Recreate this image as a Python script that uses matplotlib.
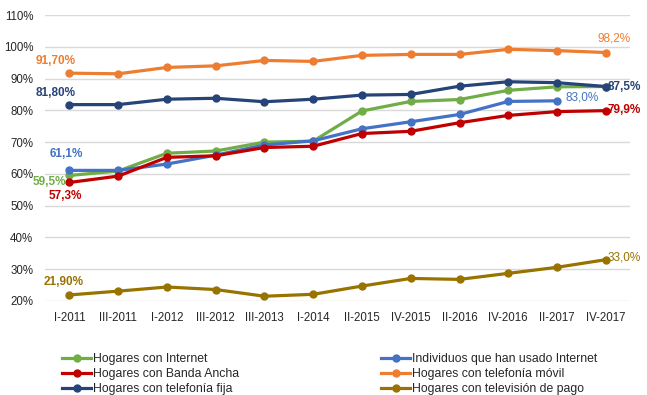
import numpy as np
import matplotlib
matplotlib.use("Agg")
import matplotlib.pyplot as plt

plt.rcParams['font.family'] = ['Liberation Sans', 'DejaVu Sans']

# periods on the x axis
periodos = ["I-2011", "III-2011", "I-2012", "III-2012", "III-2013", "I-2014",
            "II-2015", "IV-2015", "II-2016", "IV-2016", "II-2017", "IV-2017"]

# series values (%)
internet = [59.5, 60.9, 66.5, 67.2, 70.0, 70.3, 79.8, 82.8, 83.4, 86.3, 87.4, 87.5]
individuos = [61.1, 61.1, 63.1, 65.9, 69.1, 70.4, 74.2, 76.4, 78.7, 82.8, 83.0, np.nan]
banda_ancha = [57.3, 59.3, 65.2, 65.7, 68.3, 68.7, 72.7, 73.4, 76.1, 78.4, 79.6, 79.9]
movil = [91.7, 91.5, 93.5, 94.0, 95.7, 95.4, 97.3, 97.6, 97.6, 99.2, 98.8, 98.2]
fija = [81.8, 81.8, 83.5, 83.8, 82.7, 83.5, 84.8, 85.0, 87.6, 89.0, 88.7, 87.5]
tv_pago = [21.9, 23.1, 24.4, 23.6, 21.5, 22.1, 24.7, 27.1, 26.8, 28.7, 30.6, 33.0]

nombres = ["Hogares con Internet", "Individuos que han usado Internet",
           "Hogares con Banda Ancha", "Hogares con telefonía móvil",
           "Hogares con telefonía fija", "Hogares con televisión de pago"]
colores = ["#70AD47", "#4472C4", "#C00000", "#ED7D31", "#264478", "#997300"]
series = [internet, individuos, banda_ancha, movil, fija, tv_pago]

fig = plt.figure(figsize=(6.47, 3.95), dpi=100)
ax = fig.add_axes([0.0696, 0.238, 0.9044, 0.724])
x = np.arange(len(periodos))

lineas = []
for vals, nom, col in zip(series, nombres, colores):
    l, = ax.plot(x, vals, color=col, lw=2.3, marker="o", ms=5, label=nom)
    lineas.append(l)

ax.set_xlim(-0.5, len(periodos) - 0.5)
ax.set_ylim(20, 110)
ax.set_yticks(range(20, 111, 10))
ax.set_yticklabels([f"{v}%" for v in range(20, 111, 10)])
ax.set_xticks(x)
ax.set_xticklabels(periodos)
ax.tick_params(length=0, labelsize=8.3, colors="#262626", pad=8)
ax.tick_params(axis="y", pad=8.5)
ax.grid(axis="y", color="#d9d9d9", lw=1)
ax.set_axisbelow(True)
for s in ax.spines.values():
    s.set_visible(False)

# data labels (text, series index, point index, offset px, ha, bold)
etiquetas = [
    ("91,70%", 3, 0, (-14, 12), "center", True),
    ("81,80%", 4, 0, (-14, 12), "center", True),
    ("61,1%", 1, 0, (-3, 16), "center", True),
    ("59,5%", 0, 0, (-3, -7), "right", True),
    ("57,3%", 2, 0, (-4, -14), "center", True),
    ("21,90%", 5, 0, (-6, 13), "center", True),
    ("98,2%", 3, 11, (8, 14), "center", False),
    ("87,5%", 4, 11, (2, 0), "left", True),
    ("83,0%", 1, 10, (8, 3), "left", False),
    ("79,9%", 2, 11, (2, 1), "left", True),
    ("33,0%", 5, 11, (2, 2), "left", False),
]
for txt, si, pi, off, ha, negrita in etiquetas:
    ax.annotate(txt, (x[pi], series[si][pi]), xytext=off, textcoords="offset pixels",
                ha=ha, va="center", color=colores[si], fontsize=8.5,
                fontweight="bold" if negrita else "normal")

orden1 = [0, 2, 4]
orden2 = [1, 3, 5]
for orden, xpos in [(orden1, 62 / 647), (orden2, 381 / 647)]:
    fig.legend([lineas[i] for i in orden], [nombres[i] for i in orden],
               loc="center left", bbox_to_anchor=(xpos, 1 - 374 / 395),
               frameon=False, fontsize=8.8, handlelength=2.4, handletextpad=0.15,
               labelspacing=0.25, borderpad=0, borderaxespad=0, labelcolor="#262626")

fig.savefig("out.png", dpi=100)
